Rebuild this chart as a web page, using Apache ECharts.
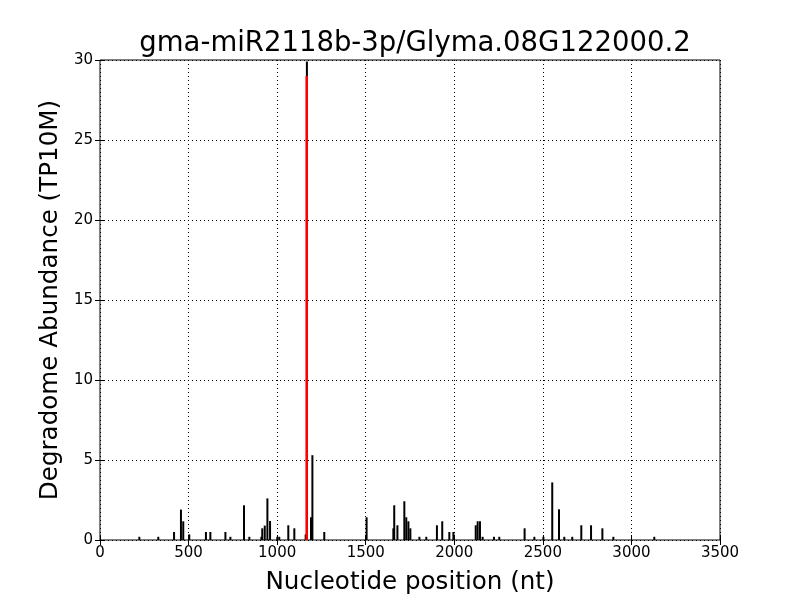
<!DOCTYPE html>
<html>
<head>
<meta charset="utf-8">
<script src="https://cdn.jsdelivr.net/npm/echarts@6/dist/echarts.min.js"></script>
<style>html,body{margin:0;padding:0;background:#fff;}#c{width:800px;height:600px;}</style>
</head>
<body>
<div id="c"></div>
<script>
var titleText = "gma-miR2118b-3p/Glyma.08G122000.2";
var xName = "Nucleotide position (nt)";
var yName = "Degradome Abundance (TP10M)";
var positions = [222, 329, 418, 457, 470, 504, 598, 623, 708, 736, 813, 843, 911, 916, 930, 945, 960, 1001, 1012, 1063, 1097, 1161, 1168, 1191, 1199, 1266, 1505, 1656, 1661, 1679, 1718, 1729, 1741, 1752, 1803, 1842, 1902, 1932, 1972, 1995, 2121, 2132, 2145, 2160, 2224, 2254, 2397, 2452, 2503, 2553, 2591, 2621, 2666, 2717, 2772, 2836, 2898, 3129];
var values = [0.2, 0.2, 0.5, 1.9, 1.17, 0.35, 0.5, 0.5, 0.5, 0.2, 2.17, 0.2, 0.2, 0.73, 0.9, 2.6, 1.19, 0.2, 0.2, 0.92, 0.73, 0.35, 29.9, 1.42, 5.3, 0.5, 1.42, 0.73, 2.17, 0.92, 2.42, 1.42, 1.17, 0.73, 0.2, 0.2, 0.92, 1.17, 0.5, 0.5, 0.92, 1.17, 1.17, 0.2, 0.2, 0.2, 0.73, 0.2, 0.2, 3.6, 1.92, 0.2, 0.2, 0.92, 0.92, 0.73, 0.2, 0.2];
var sitePos = 1167;
var siteValue = 29;
var xTicks = [0, 500, 1000, 1500, 2000, 2500, 3000, 3500];
var yTicks = [0, 5, 10, 15, 20, 25, 30];

var barData = positions.map(function (p, i) { return [p, values[i]]; });
var font = "DejaVu Sans";
var chart = echarts.init(document.getElementById('c'), null, {renderer: 'canvas'});
var tickStyle = {show: true, inside: true, length: 5, lineStyle: {color: '#000', width: 1}};
var plain = function (v) { return String(v); };
chart.setOption({
  animation: false,
  backgroundColor: '#fff',
  title: {text: titleText, left: 410, textAlign: 'center', top: 25, textStyle: {fontFamily: font, fontSize: 27.5, fontWeight: 'normal', color: '#000'}},
  grid: {left: 100, right: 80, top: 60, bottom: 60, show: true, borderColor: '#000', borderWidth: 1, backgroundColor: 'transparent'},
  xAxis: [{
    type: 'value', min: xTicks[0], max: xTicks[xTicks.length - 1], interval: 500,
    name: xName, nameLocation: 'middle', nameGap: 30,
    nameTextStyle: {fontFamily: font, fontSize: 24.6, color: '#000'},
    axisLine: {show: false}, axisTick: tickStyle,
    axisLabel: {fontFamily: font, fontSize: 15, color: '#000', margin: 6, formatter: plain},
    splitLine: {show: true, lineStyle: {color: '#000', type: [1, 3], width: 1}}
  }, {
    type: 'value', position: 'top', min: xTicks[0], max: xTicks[xTicks.length - 1], interval: 500,
    axisLine: {show: false}, axisTick: tickStyle, axisLabel: {show: false}, splitLine: {show: false}
  }],
  yAxis: [{
    type: 'value', min: yTicks[0], max: yTicks[yTicks.length - 1], interval: 5,
    name: yName, nameLocation: 'middle', nameGap: 35,
    nameTextStyle: {fontFamily: font, fontSize: 24.6, color: '#000'},
    axisLine: {show: false}, axisTick: tickStyle,
    axisLabel: {fontFamily: font, fontSize: 15, color: '#000', margin: 7, formatter: plain},
    splitLine: {show: true, lineStyle: {color: '#000', type: [1, 3], width: 1}}
  }, {
    type: 'value', position: 'right', min: yTicks[0], max: yTicks[yTicks.length - 1], interval: 5,
    axisLine: {show: false}, axisTick: tickStyle, axisLabel: {show: false}, splitLine: {show: false}
  }],
  series: [{
    type: 'bar', data: barData, barWidth: 2, itemStyle: {color: '#000'}, xAxisIndex: 0, yAxisIndex: 0
  }, {
    type: 'line', data: [[sitePos, 0], [sitePos, siteValue]], symbol: 'none',
    lineStyle: {color: '#ff0000', width: 2.5}, xAxisIndex: 0, yAxisIndex: 0, z: 5
  }]
});
</script>
</body>
</html>
